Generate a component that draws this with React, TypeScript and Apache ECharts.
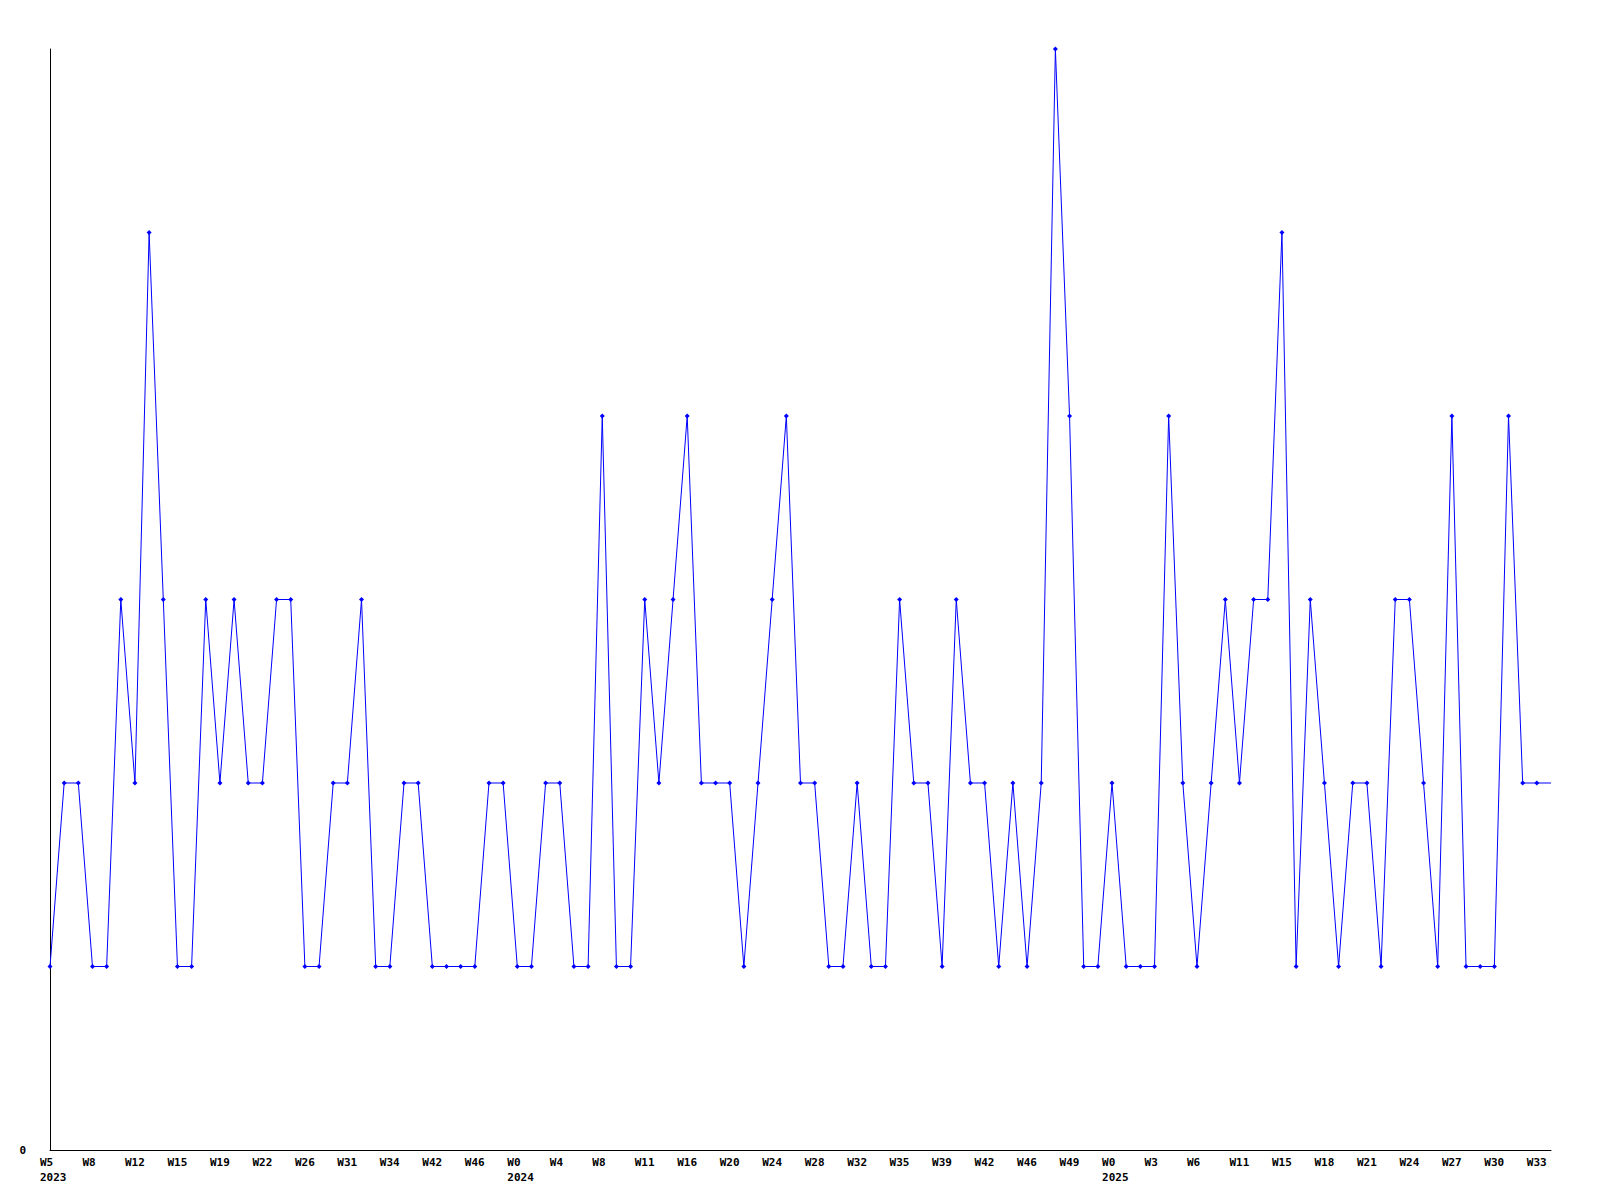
import React, { useEffect, useRef } from "react";
import * as echarts from "echarts";

// Weekly values, one per point (107 points)
const values: number[] = [
  1, 2, 2, 1, 1, 3, 2, 5, 3, 1,
  1, 3, 2, 3, 2, 2, 3, 3, 1, 1,
  2, 2, 3, 1, 1, 2, 2, 1, 1, 1,
  1, 2, 2, 1, 1, 2, 2, 1, 1, 4,
  1, 1, 3, 2, 3, 4, 2, 2, 2, 1,
  2, 3, 4, 2, 2, 1, 1, 2, 1, 1,
  3, 2, 2, 1, 3, 2, 2, 1, 2, 1,
  2, 6, 4, 1, 1, 2, 1, 1, 1, 4,
  2, 1, 2, 3, 2, 3, 3, 5, 1, 3,
  2, 1, 2, 2, 1, 3, 3, 2, 1, 4,
  1, 1, 1, 4, 2, 2, 2,
];

// Tick labels shown on every third point
const tickWeeks: string[] = [
  "W5", "W8", "W12", "W15", "W19", "W22", "W26", "W31", "W34", "W42", "W46",
  "W0", "W4", "W8", "W11", "W16", "W20", "W24", "W28", "W32", "W35", "W39",
  "W42", "W46", "W49", "W0", "W3", "W6", "W11", "W15", "W18", "W21", "W24",
  "W27", "W30", "W33",
];
const tickYears: string[] = [
  "2023", "", "", "", "", "", "", "", "", "", "",
  "2024", "", "", "", "", "", "", "", "", "", "",
  "", "", "", "2025", "", "", "", "", "", "", "",
  "", "", "",
];

const LABEL_EVERY = 3;

export default function App() {
  const ref = useRef<HTMLDivElement>(null);
  useEffect(() => {
    if (!ref.current) return;
    const chart = echarts.init(ref.current, null, { renderer: "svg" });
    const categories = values.map((_, i) => String(i));
    const font = "'DejaVu Sans Mono', monospace";
    chart.setOption({
      animation: false,
      backgroundColor: "#ffffff",
      grid: { left: 50, right: 49, top: 49, bottom: 50, containLabel: false },
      xAxis: {
        type: "category",
        data: categories,
        boundaryGap: false,
        axisLine: { show: true, lineStyle: { color: "#000", width: 1 } },
        axisTick: { show: false },
        splitLine: { show: false },
        axisLabel: {
          interval: LABEL_EVERY - 1,
          margin: 5,
          formatter: (_v: string, idx: number) => {
            const k = idx / LABEL_EVERY;
            const w = tickWeeks[k] ?? "";
            const y = tickYears[k] ?? "";
            return y ? `{a|${w}}\n{a|${y}}` : `{a|${w}}`;
          },
          verticalAlign: "top",
          rich: {
            a: {
              width: 20,
              align: "left",
              fontFamily: font,
              fontSize: 11,
              fontWeight: "bold",
              color: "#000",
              lineHeight: 15,
            },
          },
        },
      },
      yAxis: {
        type: "value",
        min: 0,
        max: 6,
        interval: 6,
        axisLine: { show: true, lineStyle: { color: "#000", width: 1 } },
        axisTick: { show: false },
        splitLine: { show: false },
        axisLabel: {
          margin: 24,
          fontFamily: font,
          fontSize: 11,
          fontWeight: "bold",
          color: "#000",
          formatter: (v: number) => (v === 0 ? "0" : ""),
        },
      },
      series: [
        {
          type: "line",
          data: values,
          symbol: (_v: number, p: any) =>
            p.dataIndex === values.length - 1 ? "none" : "diamond",
          symbolSize: 5,
          showAllSymbol: true,
          lineStyle: { color: "#0000ff", width: 1 },
          itemStyle: { color: "#0000ff" },
          clip: true,
        },
      ],
    });
    return () => chart.dispose();
  }, []);
  return (
    <div
      ref={ref}
      style={{ width: 1600, height: 1200, position: "absolute", left: 0, top: 0 }}
    />
  );
}
